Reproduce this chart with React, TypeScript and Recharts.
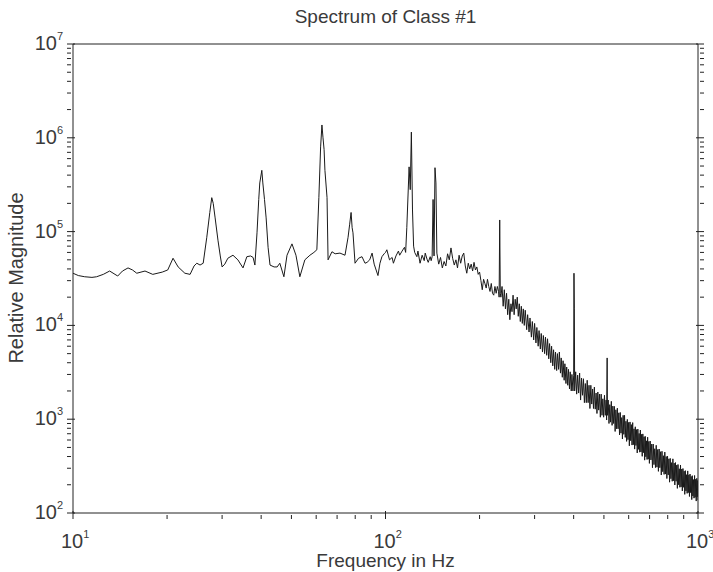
import { LineChart, Line, XAxis, YAxis } from 'recharts';

// spectrum, split into three bands
const FREQ_LOW = [
  10, 10.4, 10.9, 11.5, 11.9, 12.5, 13.1, 13.9, 14.4, 15.0, 15.5, 16.0, 17.0, 18.0, 19.3, 20.1, 20.9, 21.7, 22.8, 23.7,
  24.4, 24.9, 25.5, 26.1, 26.8, 27.4, 27.8, 28.1, 28.5, 29.1, 29.6, 30.0, 30.6, 31.3, 32.5, 33.7, 35.0, 36.0, 37.0, 37.7,
  38.2, 38.8, 39.3, 39.6, 40.2, 40.5, 41.0, 41.5, 42.1, 42.7, 44.0, 45.0, 45.9, 47.3, 48.4, 50.2, 51.7, 53.2, 55.2, 57.3,
  59.0, 60.3, 61.2, 62.0, 62.6, 63.1, 63.6, 64.0, 65.0, 65.5, 67.4, 69.0, 71.5, 74.2, 75.9, 76.8, 77.6, 78.2, 78.7, 79.9,
  82.0, 84.1, 86.0, 87.3, 89.0, 90.6, 92.0, 94.6, 96.0, 97.4, 99.0,
];
const MAG_LOW = [
  3.6e4, 3.4e4, 3.3e4, 3.25e4, 3.3e4, 3.5e4, 3.8e4, 3.36e4, 3.8e4, 4.1e4, 3.9e4, 3.6e4, 3.8e4, 3.5e4, 3.7e4, 3.9e4, 5.2e4, 4.2e4, 3.6e4, 3.5e4,
  4.3e4, 4.6e4, 4.4e4, 4.6e4, 8.7e4, 1.6e5, 2.3e5, 2.0e5, 1.4e5, 8.1e4, 5.5e4, 4.2e4, 4.5e4, 5.2e4, 5.6e4, 5.0e4, 4.1e4, 5.4e4, 5.5e4, 5.3e4,
  4.4e4, 9.7e4, 2.2e5, 3.3e5, 4.5e5, 3.3e5, 2.2e5, 1.4e5, 6.8e4, 4.4e4, 4.2e4, 4.2e4, 4.6e4, 3.3e4, 5.6e4, 7.4e4, 5.6e4, 3.3e4, 5.0e4, 5.6e4,
  6.0e4, 6.4e4, 2.3e5, 8.0e5, 1.37e6, 1.0e6, 7.5e5, 4.5e5, 2.3e5, 5.0e4, 6.1e4, 5.8e4, 5.9e4, 5.6e4, 8.7e4, 1.2e5, 1.6e5, 1.1e5, 9.7e4, 4.6e4,
  5.2e4, 5.4e4, 4.6e4, 4.7e4, 5.0e4, 5.9e4, 4.5e4, 3.4e4, 4.6e4, 5.4e4, 5.8e4,
];

const FREQ_MID = [
  100, 101, 103, 105, 106, 108, 110, 111, 113, 115, 116, 117, 119, 120, 121, 122, 123, 124, 126, 127,
  129, 131, 133, 134, 136, 137, 139, 140, 141, 142, 143, 144, 145, 146, 148, 150, 152, 154, 156, 158,
  160, 162, 164, 166, 168, 170, 172, 174, 176, 178, 180, 182, 184, 186, 188, 190, 192, 194, 196, 198,
  200, 202, 204, 206, 208, 210, 212, 214, 216, 218, 220, 222, 224, 226, 228, 230, 231, 232, 233, 234,
  236, 238, 240, 242, 244, 246, 248, 250, 252, 254, 256, 258, 260, 262, 264, 266, 268, 270, 272, 274,
  276, 278, 280, 283, 285, 288, 290, 293, 295, 298, 300, 303, 305, 308, 310, 313, 315, 318, 320, 323,
  325, 328, 330, 333, 335, 338, 340, 343, 345, 348, 350, 353, 355, 358, 360, 363, 365, 368, 370, 373,
  375, 378, 380, 383, 385, 388, 390, 393, 395, 398, 400,
];
const MAG_MID = [
  6.0e4, 6.4e4, 5.0e4, 5.3e4, 4.6e4, 5.5e4, 6.2e4, 5.6e4, 6.2e4, 6.8e4, 6.0e4, 1.1e5, 4.9e5, 2.8e5, 1.15e6, 1.7e5, 7.0e4, 6.0e4, 5.4e4, 6.2e4,
  4.6e4, 5.6e4, 4.9e4, 5.9e4, 5.0e4, 4.7e4, 5.4e4, 4.9e4, 5.4e4, 2.2e5, 5.5e4, 4.8e5, 3.3e5, 5.9e4, 4.5e4, 5.3e4, 4.1e4, 4.8e4, 4.3e4, 5.8e4,
  5.0e4, 6.7e4, 5.2e4, 4.4e4, 5.0e4, 4.1e4, 5.6e4, 4.6e4, 5.5e4, 5.9e4, 4.3e4, 3.6e4, 4.6e4, 4.0e4, 4.5e4, 3.8e4, 4.7e4, 3.9e4, 4.2e4, 3.5e4,
  3.7e4, 3.0e4, 2.4e4, 3.1e4, 2.8e4, 2.5e4, 3.1e4, 2.6e4, 2.3e4, 2.8e4, 2.2e4, 2.1e4, 2.6e4, 2.2e4, 2.6e4, 2.3e4, 2.0e4, 1.33e5, 2.2e4, 2.0e4,
  2.6e4, 1.6e4, 2.4e4, 1.5e4, 2.2e4, 1.3e4, 1.9e4, 1.15e4, 1.7e4, 1.4e4, 2.1e4, 1.3e4, 1.9e4, 1.5e4, 2.0e4, 1.25e4, 1.7e4, 1.1e4, 1.6e4, 1.05e4,
  1.5e4, 1.0e4, 1.45e4, 9.0e3, 1.3e4, 8.5e3, 1.2e4, 7.5e3, 1.1e4, 7.0e3, 1.05e4, 6.5e3, 9.5e3, 6.0e3, 8.8e3, 5.6e3, 8.2e3, 5.2e3, 7.8e3, 5.0e3,
  7.5e3, 4.8e3, 7.2e3, 4.4e3, 6.4e3, 4.0e3, 6.0e3, 3.7e3, 5.5e3, 3.4e3, 5.2e3, 3.3e3, 5.0e3, 3.4e3, 5.2e3, 3.1e3, 4.5e3, 2.8e3, 4.2e3, 2.6e3,
  3.9e3, 2.4e3, 3.6e3, 2.3e3, 3.4e3, 2.1e3, 3.2e3, 2.0e3, 3.0e3, 2.0e3, 2.9e3,
];

const FREQ_HIGH = [
  401, 402, 403, 406, 409, 412, 415, 418, 421, 424, 427, 430, 433, 436, 439, 442, 445, 448, 451, 454,
  457, 460, 463, 466, 469, 472, 475, 478, 481, 484, 487, 490, 493, 496, 499, 502, 505, 508, 510, 512,
  513, 516, 519, 522, 525, 528, 531, 534, 537, 540, 543, 546, 549, 552, 555, 558, 561, 564, 567, 570,
  573, 576, 579, 582, 585, 588, 591, 594, 597, 600, 603, 606, 609, 612, 615, 618, 621, 624, 627, 630,
  633, 636, 639, 642, 645, 648, 651, 654, 657, 660, 663, 666, 669, 672, 675, 678, 681, 684, 687, 690,
  693, 696, 699, 703, 707, 711, 715, 719, 723, 727, 731, 735, 739, 743, 747, 751, 755, 759, 763, 767,
  771, 775, 779, 783, 787, 791, 795, 799, 803, 807, 811, 815, 819, 823, 827, 831, 835, 839, 843, 847,
  851, 855, 859, 863, 867, 871, 875, 879, 883, 887, 891, 895, 899, 903, 907, 911, 915, 919, 923, 927,
  931, 935, 939, 943, 947, 951, 955, 959, 963, 967, 971, 975, 979, 983, 987, 991, 995, 998, 1000,
];
const MAG_HIGH = [
  3.6e4, 1.5e4, 2.0e3, 3.2e3, 1.85e3, 2.95e3, 1.9e3, 3.1e3, 1.6e3, 2.75e3, 1.8e3, 2.7e3, 1.5e3, 2.4e3, 1.5e3, 2.6e3, 1.5e3, 2.3e3, 1.3e3, 2.3e3,
  1.45e3, 2.1e3, 1.3e3, 2.2e3, 1.28e3, 1.9e3, 1.15e3, 1.95e3, 1.25e3, 1.85e3, 1.05e3, 1.85e3, 1.1e3, 1.65e3, 1.05e3, 1.8e3, 1.1e3, 1.6e3, 980, 4.5e3,
  1.1e3, 1.6e3, 900, 1.43e3, 930, 1.55e3, 860, 1.38e3, 900, 1.37e3, 740, 1.26e3, 790, 1.31e3, 790, 1.17e3, 680, 1.18e3, 710, 1.04e3,
  615, 1.1e3, 690, 1.1e3, 640, 950, 580, 995, 605, 925, 520, 935, 590, 875, 530, 920, 535, 790, 480, 830,
  525, 775, 437, 785, 477, 705, 445, 767, 448, 690, 402, 697, 440, 650, 366, 656, 398, 588, 372, 643,
  375, 579, 338, 585, 368, 543, 304, 543, 328, 484, 305, 527, 308, 475, 278, 481, 304, 450, 254, 455,
  276, 408, 258, 446, 260, 400, 233, 403, 255, 378, 213, 382, 232, 344, 218, 378, 221, 340, 199, 345,
  218, 324, 183, 329, 200, 296, 188, 325, 190, 294, 172, 298, 188, 279, 158, 283, 172, 256, 162, 281,
  165, 255, 150, 260, 165, 245, 139, 250, 152, 227, 144, 251, 147, 229, 134, 234, 149, 222, 137,
];

const X_TICKS = [10, 20, 30, 40, 50, 60, 70, 80, 90, 100, 200, 300, 400, 500, 600, 700, 800, 900, 1000];
const Y_TICKS = [
  100, 200, 300, 400, 500, 600, 700, 800, 900,
  1e3, 2e3, 3e3, 4e3, 5e3, 6e3, 7e3, 8e3, 9e3,
  1e4, 2e4, 3e4, 4e4, 5e4, 6e4, 7e4, 8e4, 9e4,
  1e5, 2e5, 3e5, 4e5, 5e5, 6e5, 7e5, 8e5, 9e5,
  1e6, 2e6, 3e6, 4e6, 5e6, 6e6, 7e6, 8e6, 9e6,
  1e7,
];

const FREQ = [...FREQ_LOW, ...FREQ_MID, ...FREQ_HIGH];
const MAG = [...MAG_LOW, ...MAG_MID, ...MAG_HIGH];
const data = FREQ.map((f, i) => ({ f, m: MAG[i] }));

const INK = '#222';
const TXT = '#3a3a3a';
const FONT = '"Liberation Sans", Arial, Helvetica, sans-serif';

const exponentOf = (v: number) => Math.round(Math.log10(v));
const isDecade = (v: number) => Math.abs(Math.log10(v) - exponentOf(v)) < 1e-9;

function BottomTick(props: any) {
  const { x, y, payload } = props;
  const v = payload.value;
  const major = isDecade(v);
  return (
    <g>
      <line x1={x} x2={x} y1={y} y2={y - (major ? 8 : 4)} stroke={INK} />
      {major && (
        <text x={x - 12} y={y + 29} fill={TXT} fontSize={20} fontFamily={FONT}>
          10<tspan dy={-10} fontSize={11}>{exponentOf(v)}</tspan>
        </text>
      )}
    </g>
  );
}

function TopTick(props: any) {
  const { x, y, payload } = props;
  const major = isDecade(payload.value);
  return <line x1={x} x2={x} y1={y} y2={y + (major ? 8 : 4)} stroke={INK} />;
}

function LeftTick(props: any) {
  const { x, y, payload } = props;
  const v = payload.value;
  const major = isDecade(v);
  return (
    <g>
      <line x1={x} x2={x + (major ? 8 : 4)} y1={y} y2={y} stroke={INK} />
      {major && (
        <text x={x - 4} y={y + 6} textAnchor="end" fill={TXT} fontSize={20} fontFamily={FONT}>
          10<tspan dy={-10} fontSize={11}>{exponentOf(v)}</tspan>
        </text>
      )}
    </g>
  );
}

function RightTick(props: any) {
  const { x, y, payload } = props;
  const major = isDecade(payload.value);
  return <line x1={x} x2={x - (major ? 8 : 4)} y1={y} y2={y} stroke={INK} />;
}

export default function App() {
  return (
    <div style={{ position: 'absolute', left: 0, top: 0, width: 713, height: 572, background: '#fff', fontFamily: FONT }}>
      <div style={{ position: 'absolute', left: 0, width: 771, top: 6, textAlign: 'center', fontSize: 19, color: TXT }}>
        Spectrum of Class #1
      </div>
      <div style={{ position: 'absolute', left: 0, width: 771, top: 550, textAlign: 'center', fontSize: 19, color: TXT }}>
        Frequency in Hz
      </div>
      <div
        style={{
          position: 'absolute',
          left: 16,
          top: 278,
          transform: 'translate(-50%, -50%) rotate(-90deg)',
          whiteSpace: 'nowrap',
          fontSize: 20,
          color: TXT,
        }}
      >
        Relative Magnitude
      </div>
      <LineChart width={713} height={572} data={data} margin={{ top: 43, right: 14, bottom: 9, left: 13 }}>
        <XAxis
          dataKey="f"
          type="number"
          scale="log"
          domain={[10, 1000]}
          allowDataOverflow
          ticks={X_TICKS}
          interval={0}
          height={50}
          tickLine={false}
          tickMargin={0}
          axisLine={{ stroke: INK }}
          tick={<BottomTick />}
        />
        <XAxis
          xAxisId="top"
          orientation="top"
          type="number"
          scale="log"
          domain={[10, 1000]}
          allowDataOverflow
          ticks={X_TICKS}
          interval={0}
          height={1}
          tickLine={false}
          tickMargin={0}
          axisLine={{ stroke: INK }}
          tick={<TopTick />}
        />
        <YAxis
          type="number"
          scale="log"
          domain={[100, 1e7]}
          allowDataOverflow
          ticks={Y_TICKS}
          interval={0}
          width={60}
          tickLine={false}
          tickMargin={0}
          axisLine={{ stroke: INK }}
          tick={<LeftTick />}
        />
        <YAxis
          yAxisId="right"
          orientation="right"
          type="number"
          scale="log"
          domain={[100, 1e7]}
          allowDataOverflow
          ticks={Y_TICKS}
          interval={0}
          width={1}
          tickLine={false}
          tickMargin={0}
          axisLine={{ stroke: INK }}
          tick={<RightTick />}
        />
        <Line
          dataKey="m"
          type="linear"
          stroke="#1a1a1a"
          strokeWidth={1}
          dot={false}
          isAnimationActive={false}
        />
      </LineChart>
    </div>
  );
}
